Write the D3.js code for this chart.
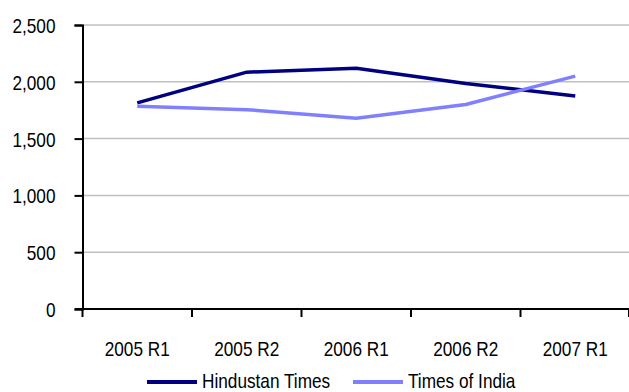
<!DOCTYPE html>
<html>
<head>
<meta charset="utf-8">
<script src="https://cdn.jsdelivr.net/npm/d3@7"></script>
<style>
  html, body { margin: 0; padding: 0; background: #fff; }
  text { font-family: "Liberation Sans", Arial, sans-serif; font-size: 21px; fill: #000; }
</style>
</head>
<body>
<div id="canvas"></div>
<script>
"use strict"

/* chart values */
let categories = ["2005 R1", "2005 R2", "2006 R1", "2006 R2", "2007 R1"];
let hindustanTimes = [1815, 2085, 2120, 1985, 1875];
let timesOfIndia = [1785, 1755, 1680, 1800, 2050];
let yTicks = [0, 500, 1000, 1500, 2000, 2500];
let seriesNames = ["Hindustan Times", "Times of India"];

// the reference uses a narrow face, squeeze Liberation Sans instead
let squeeze = 0.82;

let drawing = d3.select("#canvas")
    .append("svg")
    .attr("width", 629)
    .attr("height", 392);

let x = d3.scaleBand()
    .domain(categories)
    .range([82.5, 630])
    .padding(0);

let y = d3.scaleLinear()
    .domain([0, 2500])
    .range([309, 25]);

/* gridlines */
drawing.append("g")
    .selectAll("line")
    .data(yTicks.filter(d => d > 0))
    .join("line")
    .attr("x1", 83)
    .attr("x2", 629)
    .attr("y1", d => y(d))
    .attr("y2", d => y(d))
    .attr("stroke", "#c0c0c0")
    .attr("stroke-width", 1.5);

/* y axis */
let yAxis = drawing.append("g")
    .attr("transform", "translate(82.5,0)")
    .call(d3.axisLeft(y).tickValues(yTicks).tickSize(8).tickPadding(19)
        .tickFormat(d3.format(",")));
yAxis.select(".domain").attr("stroke", "#000").attr("stroke-width", 2);
yAxis.selectAll(".tick line").attr("stroke", "#000").attr("stroke-width", 2);
yAxis.selectAll("text")
    .style("font-family", "'Liberation Sans', Arial, sans-serif")
    .style("font-size", "21px")
    .attr("fill", "#000")
    .attr("x", 0)
    .attr("dy", "0.36em")
    .attr("transform", "translate(-27,0) scale(" + squeeze + ",1)");

/* x axis, ticks between categories */
let xAxis = drawing.append("g")
    .attr("transform", "translate(0,309)");
xAxis.append("line")
    .attr("x1", 75)
    .attr("x2", 629)
    .attr("stroke", "#000")
    .attr("stroke-width", 2);
xAxis.selectAll(".xtick")
    .data(categories.concat(["end"]))
    .join("line")
    .attr("class", "xtick")
    .attr("x1", (d, i) => i < categories.length ? x(d) : x(categories[i - 1]) + x.bandwidth() - 1)
    .attr("x2", (d, i) => i < categories.length ? x(d) : x(categories[i - 1]) + x.bandwidth() - 1)
    .attr("y1", 0)
    .attr("y2", 8)
    .attr("stroke", "#000")
    .attr("stroke-width", 2);
xAxis.selectAll(".xlabel")
    .data(categories)
    .join("text")
    .attr("class", "xlabel")
    .attr("transform", d => "translate(" + (x(d) + x.bandwidth() / 2) + ",47) scale(" + squeeze + ",1)")
    .attr("text-anchor", "middle")
    .text(d => d);

/* series lines */
let line = d3.line()
    .x((d, i) => x(categories[i]) + x.bandwidth() / 2)
    .y(d => y(d));

let colors = ["#000080", "#8080ff"];
let seriesData = [hindustanTimes, timesOfIndia];

drawing.append("g")
    .selectAll("path")
    .data(seriesData)
    .join("path")
    .attr("d", d => line(d))
    .attr("fill", "none")
    .attr("stroke", (d, i) => colors[i])
    .attr("stroke-width", 3.5)
    .attr("stroke-linejoin", "round");

/* legend */
let legendX = [147, 353];
let legend = drawing.append("g")
    .selectAll("g")
    .data(seriesNames)
    .join("g")
    .attr("transform", (d, i) => "translate(" + legendX[i] + ",382)");
legend.append("line")
    .attr("x1", 0)
    .attr("x2", 50)
    .attr("stroke", (d, i) => colors[i])
    .attr("stroke-width", 4);
legend.append("text")
    .attr("transform", "translate(55,5.5) scale(" + squeeze + ",1)")
    .text(d => d);
</script>
</body>
</html>
